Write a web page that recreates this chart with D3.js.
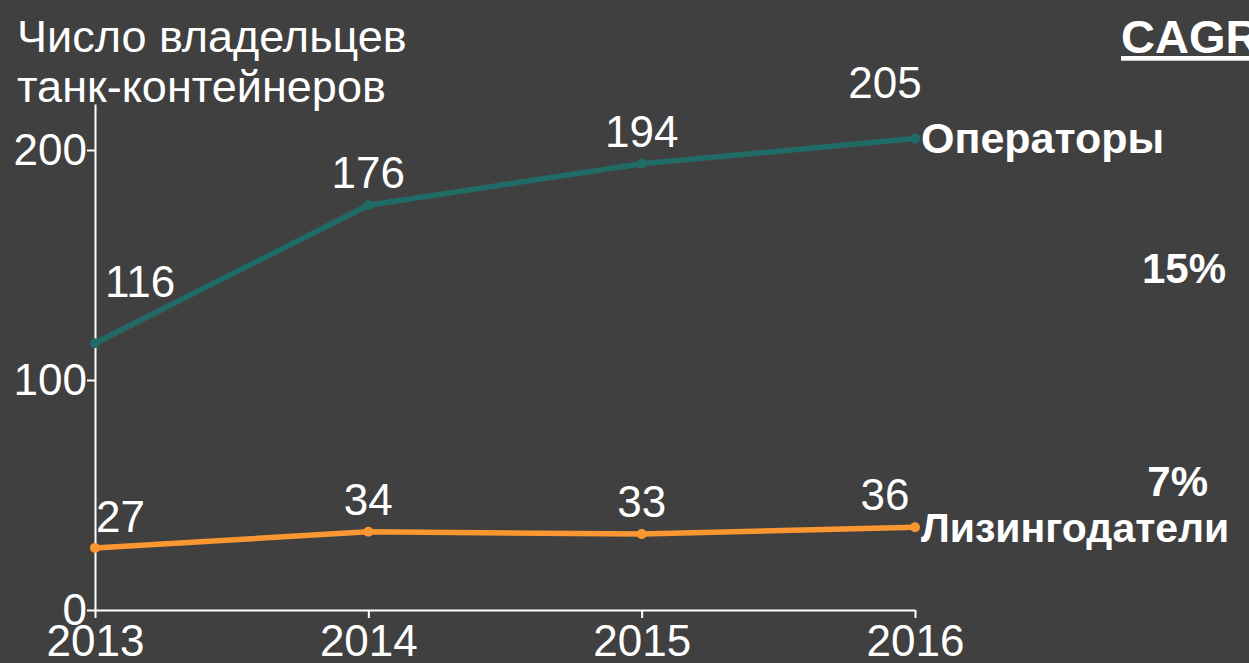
<!DOCTYPE html>
<html><head><meta charset="utf-8">
<script src="https://cdn.jsdelivr.net/npm/d3@7"></script>
<style>
html,body{margin:0;padding:0;background:#404040;overflow:hidden;}
svg{display:block;}
text{font-family:Arial,"Liberation Sans",sans-serif;fill:#fff;}
</style></head>
<body>
<script>
const years = ["2013","2014","2015","2016"];
const operators = [116,176,194,205];
const lessors = [27,34,33,36];
const seriesNames = ["Операторы","Лизингодатели"];
const cagr = ["15%","7%"];
const yTicks = [0,100,200];
const titleLines = ["Число владельцев","танк-контейнеров"];
const cagrTitle = "CAGR";

const W=1249,H=663;
const svg=d3.select("body").append("svg").attr("width",W).attr("height",H);
svg.append("rect").attr("width",W).attr("height",H).attr("fill","#404040");

const x=d3.scalePoint().domain(years).range([95,915]);
const y=d3.scaleLinear().domain([0,220]).range([610,104]);

// axes
const yAx=svg.append("g").attr("transform","translate(95,0)")
  .call(d3.axisLeft(y).tickValues(yTicks).tickSizeInner(8).tickSizeOuter(0).tickPadding(0));
const xAx=svg.append("g").attr("transform","translate(0,610)")
  .call(d3.axisBottom(x).tickSizeInner(8).tickSizeOuter(0).tickPadding(7));
[yAx,xAx].forEach(g=>{
  g.selectAll("path,line").attr("stroke","#fff").attr("stroke-width",2);
  g.selectAll("text").attr("fill","#fff").style("font-size","44px")
   .style("font-family","Arial,'Liberation Sans',sans-serif");
});
yAx.selectAll("text").attr("dy","0.33em");
xAx.selectAll("text").attr("dy","0.71em");

// title
svg.append("text").attr("x",17).attr("y",52).style("font-size","45px").text(titleLines[0]);
svg.append("text").attr("x",17).attr("y",102).style("font-size","45px").text(titleLines[1]);

const series=[
  {name:seriesNames[0],vals:operators,color:"#216b66",cagr:cagr[0]},
  {name:seriesNames[1],vals:lessors,color:"#fb9732",cagr:cagr[1]}
];
const line=d3.line().x((d,i)=>x(years[i])).y(d=>y(d));

series.forEach((s,si)=>{
  svg.append("path").datum(s.vals).attr("d",line)
    .attr("fill","none").attr("stroke",s.color).attr("stroke-width",5.5).attr("stroke-linejoin","round");
  svg.selectAll(null).data(s.vals).enter().append("circle")
    .attr("cx",(d,i)=>x(years[i])).attr("cy",d=>y(d)).attr("r",5).attr("fill",s.color);
  // value labels
  svg.selectAll(null).data(s.vals).enter().append("text")
    .attr("x",(d,i)=> i===0 ? x(years[i])+ (si===0?10:1) : (i===3? x(years[i])-30 : x(years[i])))
    .attr("y",(d,i)=>{
      if(i===0) return y(d)-(si===0?46:16);
      if(i===3 && si===0) return y(d)-41;
      return y(d)-17;
    })
    .attr("text-anchor",(d,i)=> i===0?"start":"middle")
    .style("font-size","44px").text(d=>d);
  // series name
  const last=s.vals[s.vals.length-1];
  svg.append("text").attr("x",921).attr("y",y(last)+ (si===0?14:15))
    .style("font-size",si===0?"43px":"41px").style("font-weight","bold").text(s.name);
});

// CAGR
svg.append("text").attr("x",1121).attr("y",53).style("font-size","47px").style("font-weight","bold")
  .attr("text-decoration","underline").text(cagrTitle);
svg.append("text").attr("x",1226).attr("y",283).attr("text-anchor","end")
  .style("font-size","42px").style("font-weight","bold").text(series[0].cagr);
svg.append("text").attr("x",1208).attr("y",496).attr("text-anchor","end")
  .style("font-size","42px").style("font-weight","bold").text(series[1].cagr);
</script>
</body></html>
